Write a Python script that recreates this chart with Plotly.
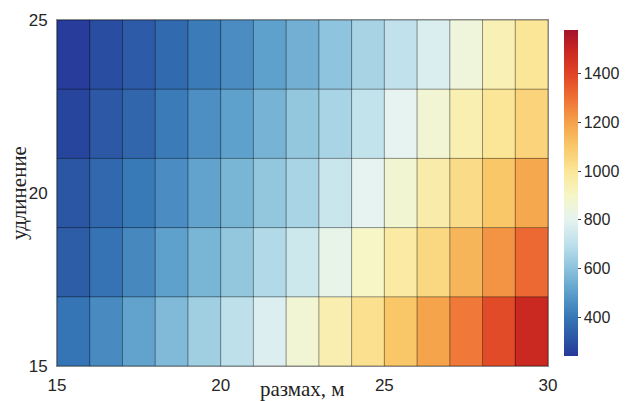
import plotly.graph_objects as go

# cell edges
x_edges = list(range(15, 31))          # размах, м
y_edges = [15, 17, 19, 21, 23, 25]     # удлинение

# values per row (bottom row first)
z_row1 = [395, 450, 510, 575, 640, 700, 775, 870, 950, 1020, 1105, 1195, 1285, 1385, 1490]
z_row2 = [330, 390, 445, 505, 560, 615, 675, 740, 820, 900, 975, 1050, 1150, 1230, 1315]
z_row3 = [310, 360, 405, 455, 510, 560, 615, 660, 730, 800, 875, 960, 1035, 1105, 1185]
z_row4 = [270, 315, 355, 410, 460, 505, 555, 615, 660, 715, 800, 870, 945, 1005, 1065]
z_row5 = [250, 290, 325, 365, 410, 455, 505, 545, 605, 655, 710, 770, 850, 940, 1000]
z = [z_row1, z_row2, z_row3, z_row4, z_row5]

zmin, zmax = 240, 1580
x_ticks = [15, 20, 25, 30]
y_ticks = [15, 20, 25]
cb_ticks = [400, 600, 800, 1000, 1200, 1400]

# colormap sampled from the reference colour bar (value -> colour)
cmap_vals = [240, 300, 400, 500, 600, 700, 800, 900, 1000, 1100, 1200, 1300, 1400, 1500, 1580]
cmap_cols = ["#26389a", "#2a52a2", "#3677b6", "#5c9fcb", "#8cc3dc", "#bde0eb", "#e6f3f0",
             "#f6f6c6", "#fbe698", "#f9c86a", "#f5a24a", "#ef7035", "#e04425", "#c82622", "#a3142a"]
colorscale = [[(v - zmin) / (zmax - zmin), c] for v, c in zip(cmap_vals, cmap_cols)]

fig = go.Figure()
fig.add_trace(go.Heatmap(
    x=x_edges, y=y_edges, z=z,
    colorscale=colorscale,
    zmin=zmin, zmax=zmax,
    colorbar=dict(
        x=(564 - 57) / 491, xanchor="left", xpad=0,
        y=0.5, yanchor="middle", len=1, lenmode="fraction",
        thickness=14, outlinewidth=0,
        tickvals=cb_ticks, ticks="outside", ticklen=3, tickcolor="#444",
        tickfont=dict(family="Liberation Sans, Arial", size=16, color="#262626"),
    ),
    hoverinfo="skip",
))

# cell borders drawn from the edge arrays
gx, gy = [], []
for xe in x_edges:
    gx += [xe, xe, None]
    gy += [y_edges[0], y_edges[-1], None]
for ye in y_edges:
    gx += [x_edges[0], x_edges[-1], None]
    gy += [ye, ye, None]
fig.add_trace(go.Scatter(x=gx, y=gy, mode="lines",
                         line=dict(color="rgba(0,0,0,0.42)", width=1),
                         hoverinfo="skip", showlegend=False))

axis_common = dict(showgrid=False, zeroline=False, showline=True, linecolor="#8a8a8a",
                   linewidth=1, mirror=True, ticks="",
                   tickfont=dict(family="Liberation Sans, Arial", size=17, color="#262626"))
fig.update_xaxes(range=[15, 30], tickvals=x_ticks, ticklabelstandoff=4, **axis_common)
fig.update_yaxes(range=[15, 25], tickvals=y_ticks, ticklabelstandoff=5, **axis_common)

fig.add_annotation(text="размах, м", xref="paper", yref="paper", x=0.5, y=(366 - 389) / 346,
                   showarrow=False, xanchor="center", yanchor="middle",
                   font=dict(family="Liberation Serif, DejaVu Serif", size=21, color="#222"))
fig.add_annotation(text="удлинение", xref="paper", yref="paper", x=(19 - 57) / 491, y=0.5,
                   textangle=-90, showarrow=False, xanchor="center", yanchor="middle",
                   font=dict(family="Liberation Serif, DejaVu Serif", size=21, color="#222"))

fig.update_layout(width=628, height=401,
                  margin=dict(l=57, r=80, t=20, b=35, autoexpand=False),
                  paper_bgcolor="white", plot_bgcolor="white", showlegend=False)
fig.write_html("out.html")
